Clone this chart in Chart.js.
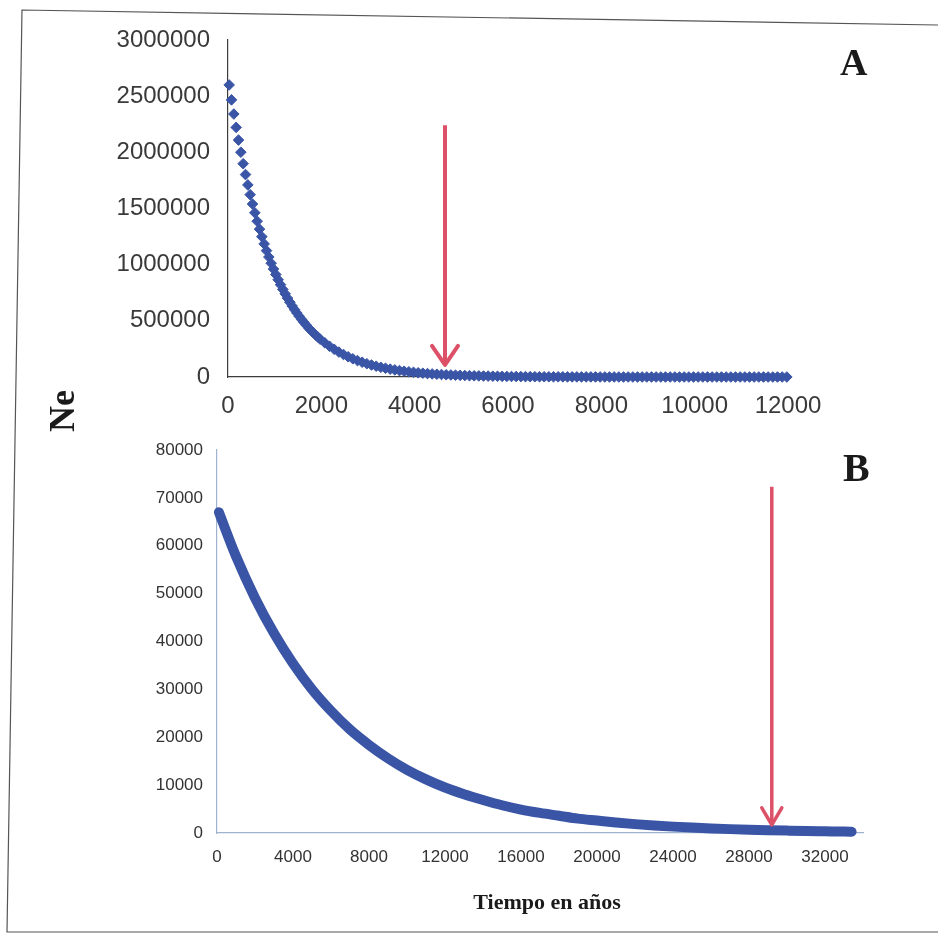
<!DOCTYPE html>
<html>
<head>
<meta charset="utf-8">
<script src="https://cdn.jsdelivr.net/npm/chart.js@4.4.1/dist/chart.umd.min.js"></script>
<style>
  body { margin: 0; background: #fff; }
  #page { position: relative; width: 938px; height: 935px; overflow: hidden; background: #fff; }
  #frame { position: absolute; left: 0; top: 0; }
  .cv { position: absolute; left: 0; }
  .lbl { position: absolute; font-family: 'Liberation Serif', 'Times New Roman', serif; font-weight: bold; color: #1a1a1a; line-height: 1; white-space: nowrap; }
</style>
</head>
<body>
<div id="page">
  <svg id="frame" width="938" height="935">
    <polyline points="938,25 22,10 7,932 938,932" fill="none" stroke="#555" stroke-width="1.2"/>
  </svg>
  <div class="cv" style="top:0;width:938px;height:430px"><canvas id="chartA"></canvas></div>
  <div class="cv" style="top:420px;width:938px;height:515px"><canvas id="chartB"></canvas></div>
  <div class="lbl" style="left:840px;top:43px;font-size:38px">A</div>
  <div class="lbl" style="left:843px;top:448px;font-size:40px">B</div>
  <div class="lbl" style="left:62px;top:411px;font-size:36px;transform:translate(-50%,-50%) rotate(-90deg)">Ne</div>
  <div class="lbl" style="left:547px;top:891px;font-size:22px;transform:translateX(-50%)">Tiempo en años</div>
</div>
<script>
// Panel A: years and Ne (diamond markers)
const yearsA = [
  25, 75, 125, 175, 225, 275, 325, 375, 425, 475,
  525, 575, 625, 675, 725, 775, 825, 875, 925, 975,
  1025, 1075, 1125, 1175, 1225, 1275, 1325, 1375, 1425, 1475,
  1525, 1575, 1625, 1675, 1725, 1775, 1825, 1875, 1925, 1975,
  2075, 2175, 2275, 2375, 2475, 2575, 2675, 2775, 2875, 2975,
  3075, 3175, 3275, 3375, 3475, 3575, 3675, 3775, 3875, 3975,
  4075, 4175, 4275, 4375, 4475, 4575, 4675, 4775, 4875, 4975,
  5075, 5175, 5275, 5375, 5475, 5575, 5675, 5775, 5875, 5975,
  6075, 6175, 6275, 6375, 6475, 6575, 6675, 6775, 6875, 6975,
  7075, 7175, 7275, 7375, 7475, 7575, 7675, 7775, 7875, 7975,
  8075, 8175, 8275, 8375, 8475, 8575, 8675, 8775, 8875, 8975,
  9075, 9175, 9275, 9375, 9475, 9575, 9675, 9775, 9875, 9975,
  10075, 10175, 10275, 10375, 10475, 10575, 10675, 10775, 10875, 10975,
  11075, 11175, 11275, 11375, 11475, 11575, 11675, 11775, 11875, 11975
];
const neA = [
  2600000, 2467000, 2341000, 2222000, 2109000, 2001000, 1899000, 1802000, 1710000, 1623000,
  1540000, 1462000, 1387000, 1316000, 1249000, 1185000, 1125000, 1068000, 1013000, 961000,
  912000, 866000, 822000, 780000, 740000, 702000, 666000, 632000, 600000, 570000,
  541000, 513000, 487000, 462000, 438000, 416000, 395000, 375000, 356000, 337000,
  304000, 274000, 247000, 222000, 200000, 180000, 162000, 146000, 131500, 118400,
  106700, 96100, 86500, 77900, 70200, 63200, 56900, 51200, 46100, 41600,
  37400, 33700, 30400, 27300, 24600, 22200, 20000, 18000, 16200, 14600,
  13100, 11800, 10600, 9600, 8600, 7800, 7000, 6300, 5700, 5100,
  4600, 4150, 3740, 3370, 3030, 2730, 2460, 2220, 2000, 1800,
  1620, 1460, 1310, 1180, 1070, 960, 860, 780, 700, 630,
  570, 510, 460, 420, 370, 340, 300, 270, 250, 220,
  200, 180, 160, 150, 130, 120, 110, 100, 90, 80,
  70, 63, 57, 51, 46, 41, 37, 34, 30, 27,
  25, 22, 20, 18, 16, 15, 13, 12, 11, 10
];
const arrowAYears = [4650, 4650];
const arrowAValues = [2240000, 107000];

// Panel B: years and Ne (dense curve)
const yearsB = [
  100, 1000, 2000, 3000, 4000, 5000, 6000, 7000, 8000, 9000,
  10000, 11000, 12000, 13000, 14000, 15000, 16000, 17000, 18000, 19000,
  20000, 21000, 22000, 23000, 24000, 25000, 26000, 27000, 28000, 29000,
  30000, 31000, 32000, 33000, 33400
];
const neB = [
  67000, 57800, 49100, 41700, 35400, 30000, 25500, 21600, 18400, 15600,
  13200, 11200, 9500, 8100, 6900, 5800, 4900, 4200, 3600, 3000,
  2600, 2200, 1850, 1570, 1330, 1130, 960, 810, 690, 590,
  500, 420, 360, 300, 280
];
const arrowBYears = [29200, 29200];
const arrowBValues = [72300, 1700];

// tick labels
const xTicksA = [0, 2000, 4000, 6000, 8000, 10000, 12000];
const yTicksA = [0, 500000, 1000000, 1500000, 2000000, 2500000, 3000000];
const xTicksB = [0, 4000, 8000, 12000, 16000, 20000, 24000, 28000, 32000];
const yTicksB = [0, 10000, 20000, 30000, 40000, 50000, 60000, 70000, 80000];
const xMaxA = 12000;
const xMaxB = 34000;

const BLUE = '#3a55a6';
const RED = '#dc5068';

const toPoints = (xs, ys) => xs.map((x, i) => ({ x: x, y: ys[i] }));

// draws a V head at the last point of any dataset flagged with arrowHead
const arrowHeads = {
  id: 'arrowHeads',
  afterDatasetsDraw(chart) {
    const ctx = chart.ctx;
    chart.data.datasets.forEach((ds, i) => {
      if (!ds.arrowHead) return;
      const pts = chart.getDatasetMeta(i).data;
      const tip = pts[pts.length - 1];
      const [hw, hh] = ds.arrowHead;
      ctx.save();
      ctx.strokeStyle = ds.borderColor;
      ctx.lineWidth = ds.borderWidth;
      ctx.lineCap = 'round';
      ctx.lineJoin = 'round';
      ctx.beginPath();
      ctx.moveTo(tip.x - hw, tip.y - hh);
      ctx.lineTo(tip.x, tip.y);
      ctx.lineTo(tip.x + hw, tip.y - hh);
      ctx.stroke();
      ctx.restore();
    });
  }
};

Chart.defaults.font.family = "'Liberation Sans', Arial, sans-serif";
Chart.defaults.animation = false;

function axis(tickValues, max, opts) {
  return {
    type: 'linear',
    min: 0,
    max: max,
    grid: { display: false, drawTicks: false },
    border: { display: true, color: opts.lineColor, width: 1.2 },
    afterBuildTicks: s => { s.ticks = tickValues.map(v => ({ value: v })); },
    ticks: {
      autoSkip: false,
      maxRotation: 0,
      color: opts.textColor,
      font: { size: opts.fontSize },
      padding: opts.padding,
      callback: v => String(v)
    },
    afterFit: opts.afterFit
  };
}

new Chart(document.getElementById('chartA'), {
  type: 'scatter',
  data: {
    datasets: [
      {
        data: toPoints(yearsA, neA),
        pointStyle: 'rectRot',
        pointRadius: 5.3,
        backgroundColor: BLUE,
        borderColor: BLUE,
        borderWidth: 1,
        clip: false,
        order: 1
      },
      {
        data: toPoints(arrowAYears, arrowAValues),
        showLine: true,
        pointRadius: 0,
        borderColor: RED,
        borderWidth: 4,
        arrowHead: [13, 19],
        clip: false,
        order: 0
      }
    ]
  },
  options: {
    responsive: true,
    maintainAspectRatio: false,
    events: [],
    layout: { padding: { top: 40, right: 150, bottom: 0, left: 0 } },
    plugins: { legend: { display: false }, tooltip: { enabled: false } },
    scales: {
      x: axis(xTicksA, xMaxA, { lineColor: '#3c3c3c', textColor: '#3a3a3a', fontSize: 24, padding: 15,
        afterFit: s => { s.height = 53; } }),
      y: axis(yTicksA, yTicksA[yTicksA.length - 1], { lineColor: '#3c3c3c', textColor: '#3a3a3a', fontSize: 24, padding: 18,
        afterFit: s => { s.width = 228; } })
    }
  },
  plugins: [arrowHeads]
});

new Chart(document.getElementById('chartB'), {
  type: 'scatter',
  data: {
    datasets: [
      {
        data: toPoints(yearsB, neB),
        showLine: true,
        pointRadius: 0,
        borderColor: BLUE,
        borderWidth: 10,
        borderCapStyle: 'round',
        cubicInterpolationMode: 'monotone',
        clip: false,
        order: 1
      },
      {
        data: toPoints(arrowBYears, arrowBValues),
        showLine: true,
        pointRadius: 0,
        borderColor: RED,
        borderWidth: 3.5,
        arrowHead: [10, 17],
        clip: false,
        order: 0
      }
    ]
  },
  options: {
    responsive: true,
    maintainAspectRatio: false,
    events: [],
    layout: { padding: { top: 30, right: 75, bottom: 0, left: 0 } },
    plugins: { legend: { display: false }, tooltip: { enabled: false } },
    scales: {
      x: axis(xTicksB, xMaxB, { lineColor: '#9fb3cf', textColor: '#333', fontSize: 17, padding: 14,
        afterFit: s => { s.height = 102; } }),
      y: axis(yTicksB, yTicksB[yTicksB.length - 1], { lineColor: '#9fb3cf', textColor: '#333', fontSize: 17, padding: 14,
        afterFit: s => { s.width = 217; } })
    }
  },
  plugins: [arrowHeads]
});
</script>
</body>
</html>
